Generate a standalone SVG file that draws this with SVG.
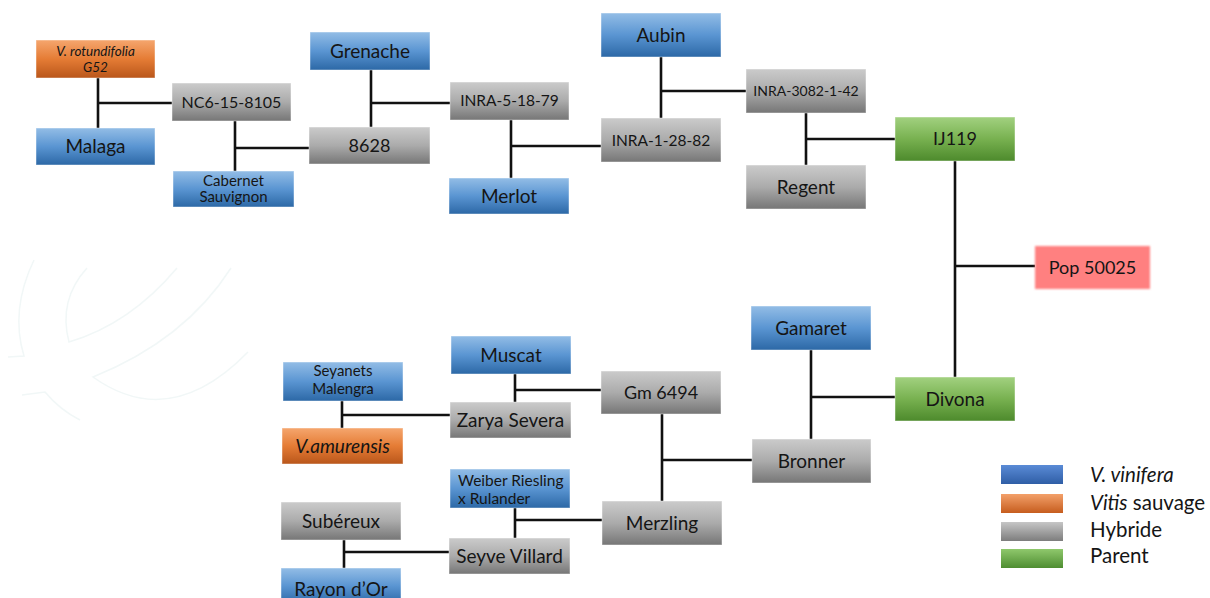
<svg xmlns="http://www.w3.org/2000/svg" width="1210" height="598" viewBox="0 0 1210 598">
<defs>
<linearGradient id="gBlue" x1="0" y1="0" x2="0" y2="1"><stop offset="0" stop-color="#93bde6"/><stop offset="0.5" stop-color="#5a95d2"/><stop offset="1" stop-color="#2c68a6"/></linearGradient>
<linearGradient id="gOrange" x1="0" y1="0" x2="0" y2="1"><stop offset="0" stop-color="#f5a66e"/><stop offset="0.5" stop-color="#e57c35"/><stop offset="1" stop-color="#b9561a"/></linearGradient>
<linearGradient id="gGray" x1="0" y1="0" x2="0" y2="1"><stop offset="0" stop-color="#cbcbcb"/><stop offset="0.5" stop-color="#ababab"/><stop offset="1" stop-color="#767676"/></linearGradient>
<linearGradient id="gGreen" x1="0" y1="0" x2="0" y2="1"><stop offset="0" stop-color="#a2d180"/><stop offset="0.5" stop-color="#78b150"/><stop offset="1" stop-color="#4d8a2c"/></linearGradient>
<linearGradient id="lBlue" x1="0" y1="0" x2="0" y2="1"><stop offset="0" stop-color="#5a8bd6"/><stop offset="1" stop-color="#2f5ea6"/></linearGradient>
<linearGradient id="lOrange" x1="0" y1="0" x2="0" y2="1"><stop offset="0" stop-color="#f3a06a"/><stop offset="1" stop-color="#c65d1e"/></linearGradient>
<linearGradient id="lGray" x1="0" y1="0" x2="0" y2="1"><stop offset="0" stop-color="#c6c6c6"/><stop offset="1" stop-color="#7d7d7d"/></linearGradient>
<linearGradient id="lGreen" x1="0" y1="0" x2="0" y2="1"><stop offset="0" stop-color="#8fc86c"/><stop offset="1" stop-color="#4e8d31"/></linearGradient>
<filter id="soft" x="-10%" y="-20%" width="120%" height="140%"><feGaussianBlur stdDeviation="1.2"/></filter>
</defs>
<style>
text{font-family:Lato,"Liberation Sans",sans-serif;fill:#151515;text-anchor:middle}
.b{fill:url(#gBlue)}
.o{fill:url(#gOrange)}
.g{fill:url(#gGray)}
.v{fill:url(#gGreen)}
rect.n{stroke:#ffffff;stroke-opacity:0.45;stroke-width:1}
.t{font-size:19px}
.s{font-size:15px}
.i{font-style:italic}
.c path{stroke:#111;stroke-width:2.6;fill:none}
.wm{stroke:#f1f7f7;stroke-width:1.5;fill:none}
.lg{font-size:20.5px;text-anchor:start}
</style>
<rect width="1210" height="598" fill="#ffffff"/>
<g id="watermark" class="wm">
<path d="M34 260 Q10 310 24 356 L8 357"/>
<path d="M87 268 Q58 300 69 342 Q130 324 177 268"/>
<path d="M231 268 Q185 340 93 377 Q170 432 248 352"/>
<path d="M22 395 L45 392 Q60 410 80 420"/>
</g>
<g class="c" id="connectors">
<path d="M98 78 V128 M98 103 H172"/>
<path d="M235 121 V171 M235 148 H309"/>
<path d="M371 70 V127 M371 103 H450"/>
<path d="M511 120 V178 M511 146 H601"/>
<path d="M661 57 V118 M661 91 H746"/>
<path d="M806 113 V165 M806 139 H895"/>
<path d="M955 161 V377 M955 266 H1035"/>
<path d="M811 350 V439 M811 397 H895"/>
<path d="M342 401 V428 M342 415 H450"/>
<path d="M515 374 V402 M515 390 H601"/>
<path d="M662 414 V501 M662 460 H752"/>
<path d="M515 508 V538 M515 520 H602"/>
<path d="M344 540 V568 M344 552 H449"/>
</g>
<g id="rotundifolia"><rect class="n o" x="36" y="40" width="119" height="38"/><text class="i" font-size="13.5" x="95.5" y="56">V. rotundifolia</text><text class="i" font-size="13.5" x="95.5" y="72">G52</text></g>
<g id="malaga"><rect class="n b" x="36" y="128" width="119" height="37"/><text class="t" x="95.5" y="153">Malaga</text></g>
<g id="nc6"><rect class="n g" x="172" y="83" width="119" height="38"/><text font-size="16" x="231.5" y="108">NC6-15-8105</text></g>
<g id="cabernet"><rect class="n b" x="173" y="171" width="121" height="36"/><text class="s" x="233.5" y="186">Cabernet</text><text class="s" x="233.5" y="202">Sauvignon</text></g>
<g id="grenache"><rect class="n b" x="310" y="32" width="120" height="38"/><text class="t" x="370" y="58">Grenache</text></g>
<g id="n8628"><rect class="n g" x="309" y="127" width="121" height="37"/><text font-size="18" x="369.5" y="152">8628</text></g>
<g id="inra51879"><rect class="n g" x="450" y="82" width="119" height="38"/><text font-size="15.5" x="509.5" y="106">INRA-5-18-79</text></g>
<g id="merlot"><rect class="n b" x="449" y="178" width="120" height="36"/><text class="t" x="509" y="203">Merlot</text></g>
<g id="aubin"><rect class="n b" x="601" y="13" width="120" height="44"/><text class="t" x="661" y="42">Aubin</text></g>
<g id="inra3082"><rect class="n g" x="746" y="69" width="120" height="44"/><text font-size="14" x="806" y="96">INRA-3082-1-42</text></g>
<g id="inra12882"><rect class="n g" x="601" y="118" width="120" height="44"/><text font-size="15.5" x="661" y="146">INRA-1-28-82</text></g>
<g id="regent"><rect class="n g" x="746" y="165" width="120" height="44"/><text class="t" x="806" y="194">Regent</text></g>
<g id="ij119"><rect class="n v" x="895" y="117" width="120" height="44"/><text font-size="18" x="955" y="145">IJ119</text></g>
<g id="pop50025"><rect x="1035" y="246" width="115" height="43" fill="#ff8080" filter="url(#soft)"/><text font-size="18" x="1092.5" y="274">Pop 50025</text></g>
<g id="gamaret"><rect class="n b" x="751" y="306" width="120" height="44"/><text class="t" x="811" y="335">Gamaret</text></g>
<g id="divona"><rect class="n v" x="895" y="377" width="120" height="44"/><text class="t" x="955" y="406">Divona</text></g>
<g id="bronner"><rect class="n g" x="752" y="439" width="119" height="44"/><text class="t" x="811.5" y="468">Bronner</text></g>
<g id="seyanets"><rect class="n b" x="283" y="362" width="120" height="39"/><text class="s" x="343" y="376">Seyanets</text><text class="s" x="343" y="394">Malengra</text></g>
<g id="amurensis"><rect class="n o" x="282" y="428" width="121" height="36"/><text class="t i" x="342.5" y="453">V.amurensis</text></g>
<g id="muscat"><rect class="n b" x="451" y="336" width="120" height="38"/><text class="t" x="511" y="362">Muscat</text></g>
<g id="zarya"><rect class="n g" x="450" y="402" width="121" height="36"/><text class="t" x="510.5" y="427">Zarya Severa</text></g>
<g id="gm6494"><rect class="n g" x="601" y="371" width="120" height="43"/><text font-size="18" x="661" y="399">Gm 6494</text></g>
<g id="weiber"><rect class="n b" x="450" y="469" width="120" height="39"/><text font-size="15.5" x="458" y="486" style="text-anchor:start">Weiber Riesling</text><text font-size="15.5" x="458" y="504" style="text-anchor:start">x Rulander</text></g>
<g id="subereux"><rect class="n g" x="281" y="502" width="120" height="38"/><text class="t" x="341" y="528">Subéreux</text></g>
<g id="seyve"><rect class="n g" x="449" y="538" width="121" height="36"/><text class="t" x="509.5" y="563">Seyve Villard</text></g>
<g id="rayon"><rect class="n b" x="281" y="568" width="120" height="36"/><text class="t" x="341" y="596">Rayon d’Or</text></g>
<g id="merzling"><rect class="n g" x="602" y="501" width="120" height="44"/><text class="t" x="662" y="530">Merzling</text></g>
<g id="legend">
<rect x="1001" y="465" width="62" height="19" fill="url(#lBlue)"/>
<rect x="1001" y="494" width="62" height="19" fill="url(#lOrange)"/>
<rect x="1001" y="522" width="62" height="19" fill="url(#lGray)"/>
<rect x="1001" y="549" width="62" height="19" fill="url(#lGreen)"/>
<text class="lg i" x="1090" y="482">V. vinifera</text>
<text class="lg" x="1090" y="510"><tspan font-style="italic">Vitis</tspan> sauvage</text>
<text class="lg" x="1090" y="537">Hybride</text>
<text class="lg" x="1090" y="563">Parent</text>
</g>
</svg>
